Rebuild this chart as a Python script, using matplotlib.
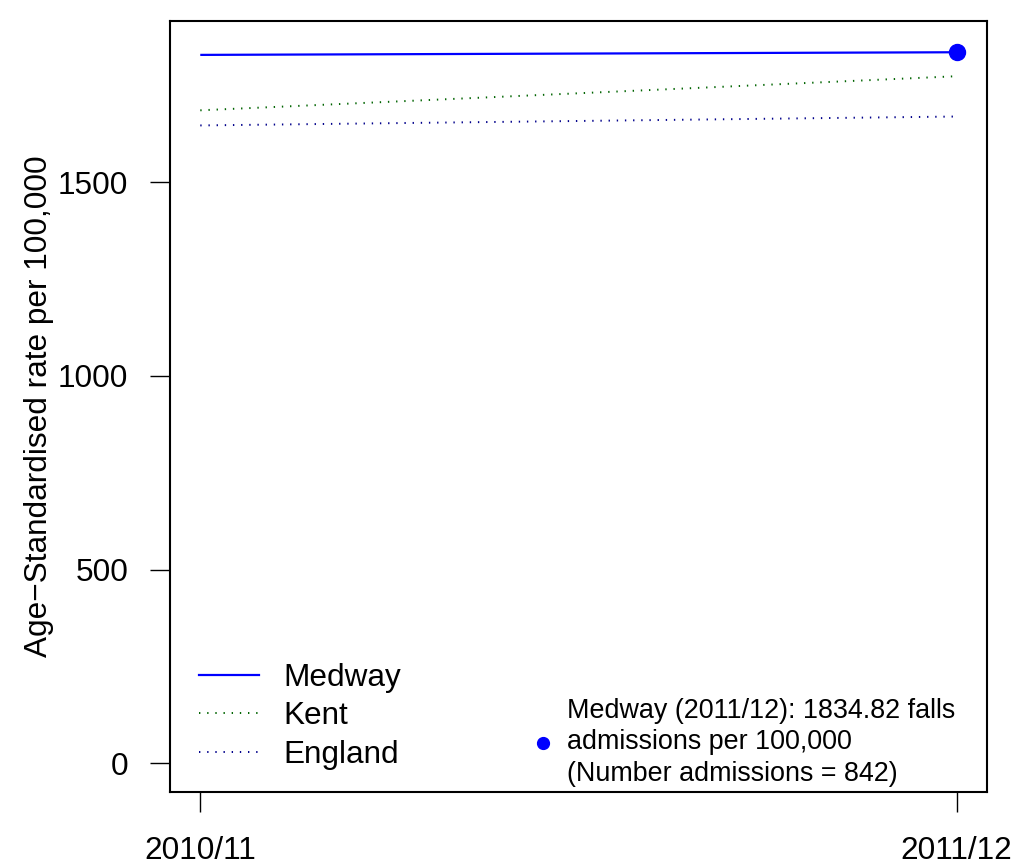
import matplotlib
matplotlib.use("Agg")
import matplotlib.pyplot as plt
from matplotlib.lines import Line2D

plt.rcParams['font.family'] = ['Liberation Sans', 'DejaVu Sans']

# ===================== data =====================
years = ['2010/11', '2011/12']
medway = [1828, 1834.82]
kent = [1685, 1773]
england = [1646, 1669]
yticks = [0, 500, 1000, 1500]
note = 'Medway (2011/12): 1834.82 falls\nadmissions per 100,000\n(Number admissions = 842)'

FS = 22.7      # R cex base (~31.6 px em at dpi 100)
FS_NOTE = 19.4

fig = plt.figure(figsize=(10.15, 8.66), dpi=100)
ax = fig.add_axes([0.1675, 0.0855, 0.8049, 0.8905])

x = list(range(len(years)))
dotted = (0, (0.7, 3.5))
ax.plot(x, medway, color='blue', lw=1.6, solid_capstyle='butt')
ax.plot(x, kent, color='#006400', lw=1.4, linestyle=dotted)
ax.plot(x, england, color='#00008B', lw=1.4, linestyle=dotted)
ax.plot(x[-1], medway[-1], 'o', color='blue', ms=11.5)

ax.set_xlim(-0.04, 1.04)
ax.set_ylim(-0.04 * 1916 / 1.04, 1916)
ax.set_xticks(x)
ax.set_xticklabels(years, fontsize=FS)
ax.set_yticks(yticks)
ax.set_yticklabels([str(v) for v in yticks], fontsize=FS)
ax.tick_params(axis='x', length=14.4, width=1.0, pad=17)
ax.tick_params(axis='y', length=14.4, width=1.0, pad=15.5)
for s in ax.spines.values():
    s.set_linewidth(1.5)
ax.set_ylabel('Age\u2212Standardised rate per 100,000', fontsize=FS, labelpad=3)

# legend for the series (R legend, bottom left)
handles = [Line2D([], [], color='blue', lw=1.6),
           Line2D([], [], color='#006400', lw=1.4, linestyle=dotted),
           Line2D([], [], color='#00008B', lw=1.4, linestyle=dotted)]
leg1 = ax.legend(handles, ['Medway', 'Kent', 'England'], loc='lower left',
                 bbox_to_anchor=(0.008, 0.0), frameon=False, fontsize=FS,
                 handlelength=1.9, handletextpad=0.8, labelspacing=0.27,
                 borderaxespad=0.3)
ax.add_artist(leg1)

# annotation legend (bottom right)
dot = Line2D([], [], color='blue', marker='o', linestyle='none', ms=8.5)
leg2 = ax.legend([dot], [note], loc='lower right', bbox_to_anchor=(0.981, -0.014),
                 frameon=False, fontsize=FS_NOTE, handlelength=0.6,
                 handletextpad=0.6, borderaxespad=0.2)
leg2.get_texts()[0].set_linespacing(1.27)

fig.savefig('out.png', dpi=100)
